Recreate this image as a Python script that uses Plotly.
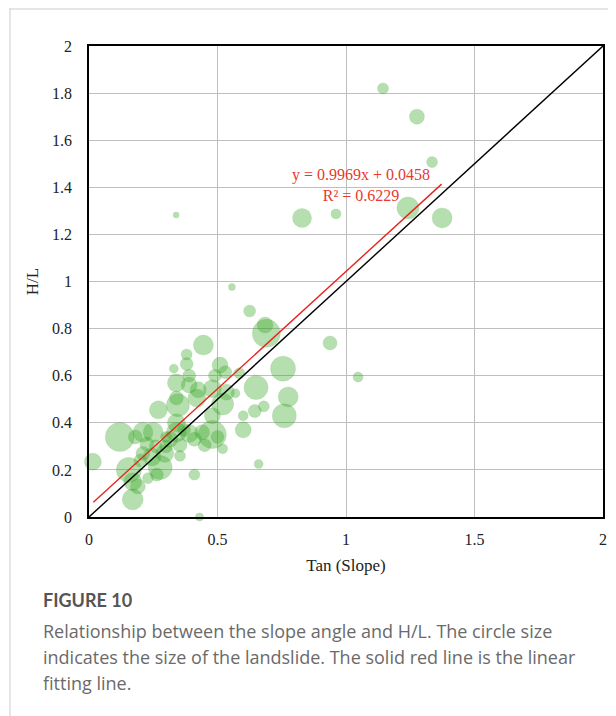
import plotly.graph_objects as go

# ---- data ----
tan_slope = [0.12, 0.015, 0.17, 0.155, 0.17, 0.21, 0.25, 0.18, 0.225, 0.21,
             0.245, 0.295, 0.277, 0.264, 0.23, 0.354, 0.315, 0.34, 0.39, 0.48,
             0.50, 0.45, 0.52, 0.41, 0.43, 0.60, 0.66, 0.34, 0.27, 0.34,
             0.346, 0.34, 0.39, 0.425, 0.42, 0.48, 0.52, 0.48, 0.535, 0.57,
             0.51, 0.49, 0.53, 0.39, 0.38, 0.38, 0.33, 0.445, 0.625, 0.685,
             0.69, 0.755, 0.65, 0.775, 0.76, 0.68, 0.645, 0.60, 0.585, 0.354,
             0.41, 0.30, 0.26, 0.20, 0.19, 0.44, 0.37, 0.30,
             1.144, 1.276, 1.335, 1.241, 1.374, 0.829, 0.961, 0.339, 0.556,
             0.938, 1.047]
h_over_l = [0.34, 0.235, 0.075, 0.20, 0.15, 0.36, 0.36, 0.34, 0.31, 0.27,
            0.255, 0.27, 0.21, 0.18, 0.165, 0.26, 0.33, 0.36, 0.355, 0.35,
            0.34, 0.305, 0.29, 0.18, 0.0, 0.37, 0.225, 0.40, 0.455, 0.505,
            0.475, 0.57, 0.56, 0.54, 0.505, 0.545, 0.48, 0.43, 0.53, 0.525,
            0.645, 0.60, 0.615, 0.60, 0.65, 0.69, 0.63, 0.73, 0.875, 0.815,
            0.78, 0.63, 0.55, 0.51, 0.43, 0.47, 0.45, 0.43, 0.61, 0.305,
            0.33, 0.30, 0.30, 0.24, 0.13, 0.36, 0.37, 0.34,
            1.82, 1.70, 1.507, 1.312, 1.27, 1.27, 1.287, 1.282, 0.977,
            0.739, 0.594]
landslide_size = [29, 17, 21, 25, 18, 20, 20, 14, 14, 14,
                  18, 18, 24, 13, 11, 11, 16, 20, 18, 28,
                  13, 13, 10, 11, 8, 16, 9, 18, 18, 14,
                  23, 18, 16, 16, 18, 18, 22, 16, 16, 9,
                  16, 13, 13, 13, 13, 11, 9, 20, 12, 16,
                  28, 25, 24, 20, 24, 11, 13, 10, 11, 14,
                  14, 13, 13, 13, 15, 15, 13, 11,
                  11, 15, 11, 22, 20, 19, 10, 6, 7,
                  14, 10]

fit_slope = 0.9969
fit_intercept = 0.0458
fit_r2 = 0.6229
fit_x = [0.017, 1.372]
fit_y = [fit_slope * v + fit_intercept for v in fit_x]
ref_x = [0, 2]
ref_y = [0, 2]

x_ticks = [0, 0.5, 1, 1.5, 2]
x_tick_labels = ["0", "0.5", "1", "1.5", "2"]
y_ticks = [0, 0.2, 0.4, 0.6, 0.8, 1, 1.2, 1.4, 1.6, 1.8, 2]
y_tick_labels = ["0", "0.2", "0.4", "0.6", "0.8", "1", "1.2", "1.4", "1.6", "1.8", "2"]

SERIF = "Liberation Serif"
SANS = "Open Sans"
BOLD_SANS = "Lato"

# page body has an 8px margin: figure is shifted by (8, 8)
OFF = 8
L, R, T, B = 89 - OFF, 13, 46 - OFF, 199
W, H = 616 - OFF, 716 - OFF
PW = W - L - R
PH = H - T - B


def px_x(p):
    return (p - OFF - L) / PW


def px_y(p):
    return (H - B - (p - OFF)) / PH


fig = go.Figure()
fig.add_trace(go.Scatter(
    x=tan_slope, y=h_over_l, mode="markers",
    marker=dict(size=landslide_size, color="rgba(50,165,30,0.5)",
                line=dict(width=0.5, color="rgba(50,150,40,0.35)")),
    cliponaxis=False, showlegend=False, hoverinfo="skip"))
fig.add_trace(go.Scatter(x=ref_x, y=ref_y, mode="lines",
                         line=dict(color="black", width=1.4), showlegend=False))
fig.add_trace(go.Scatter(x=fit_x, y=fit_y, mode="lines",
                         line=dict(color="#e8231c", width=1.4), showlegend=False))

fig.add_annotation(x=1.06, y=1.41, xref="x", yref="y",
                   text=f"y = {fit_slope}x + {fit_intercept}<br>R² = {fit_r2}",
                   showarrow=False, align="center",
                   font=dict(family=SERIF, size=16, color="#e8392c"))

# outer page frame lines
fig.add_shape(type="line", xref="paper", yref="paper", x0=px_x(10), x1=px_x(10),
              y0=px_y(8), y1=px_y(760), line=dict(color="#cccccc", width=1))
fig.add_shape(type="line", xref="paper", yref="paper", x0=px_x(10), x1=px_x(640),
              y0=px_y(9), y1=px_y(9), line=dict(color="#cccccc", width=1))

fig.add_annotation(x=px_x(41), y=px_y(600), xref="paper", yref="paper",
                   text="<b>FIGURE 10</b>", showarrow=False,
                   xanchor="left", yanchor="middle",
                   font=dict(family=BOLD_SANS, size=18, color="#555555"))
caption_lines = ["Relationship between the slope angle and H/L. The circle size",
                 "indicates the size of the landslide. The solid red line is the linear",
                 "fitting line."]
for i, line in enumerate(caption_lines):
    fig.add_annotation(x=px_x(41), y=px_y(631 + 26 * i), xref="paper", yref="paper",
                       text=line, showarrow=False, xanchor="left", yanchor="middle",
                       font=dict(family=SANS, size=18, color="#6a6a6a"))

axis_common = dict(range=[0, 2], showgrid=True, gridcolor="#bfbfbf", gridwidth=1,
                   showline=True, linecolor="black", linewidth=1.5, mirror=True,
                   zeroline=False, ticks="", ticklen=0,
                   tickfont=dict(family=SERIF, size=16, color="#222"))

fig.update_layout(
    width=W, height=H,
    margin=dict(l=L, r=R, t=T, b=B, autoexpand=False),
    font=dict(family=SERIF, color="#222"),
    paper_bgcolor="white", plot_bgcolor="white",
    xaxis=dict(tickvals=x_ticks, ticktext=x_tick_labels, ticklabelstandoff=7,
               title=dict(text="Tan (Slope)", font=dict(family=SERIF, size=17, color="#222"),
                          standoff=12), **axis_common),
    yaxis=dict(tickvals=y_ticks, ticktext=y_tick_labels, ticklabelstandoff=12,
               title=dict(text="H/L", font=dict(family=SERIF, size=17, color="#222"),
                          standoff=9), **axis_common),
)

fig.write_html("out.html")
